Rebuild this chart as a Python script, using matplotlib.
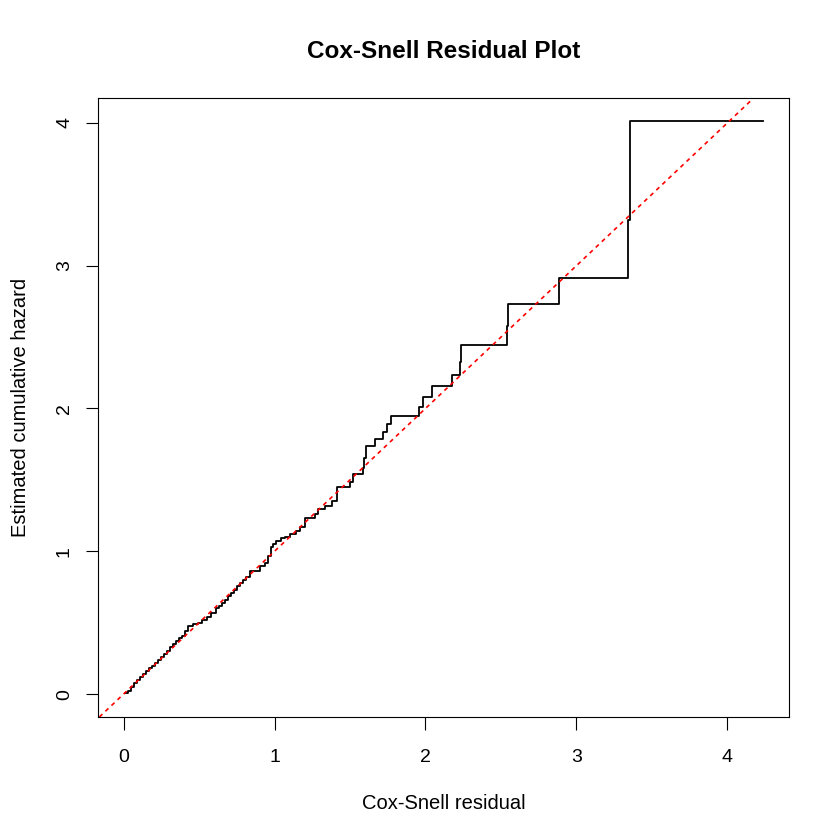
import matplotlib
matplotlib.use("Agg")
import matplotlib.pyplot as plt

plt.rcParams['font.family'] = ['Liberation Sans', 'DejaVu Sans']

# Cox-Snell residuals (event times) and Nelson-Aalen cumulative hazard
resid = [0.01, 0.03, 0.05, 0.07, 0.09, 0.11, 0.13, 0.15, 0.17, 0.19,
         0.21, 0.23, 0.25, 0.27, 0.29, 0.31, 0.33, 0.35, 0.37, 0.39,
         0.41, 0.43, 0.46, 0.49, 0.52, 0.55, 0.58, 0.61, 0.63, 0.65,
         0.67, 0.69, 0.71, 0.73, 0.75, 0.77, 0.79, 0.81, 0.84, 0.905,
         0.94, 0.96, 0.975, 0.99, 1.01, 1.04, 1.07, 1.10, 1.14, 1.17,
         1.20, 1.203, 1.269, 1.29, 1.335, 1.379, 1.417, 1.50, 1.522, 1.588,
         1.595, 1.603, 1.666, 1.72, 1.743, 1.771, 1.959, 1.981, 2.045, 2.174,
         2.227, 2.234, 2.538, 2.547, 2.882, 3.34, 3.353, 4.239]
cumhaz = [0.005, 0.025, 0.05, 0.075, 0.10, 0.12, 0.14, 0.16, 0.18, 0.20,
          0.22, 0.24, 0.26, 0.28, 0.30, 0.33, 0.35, 0.37, 0.39, 0.41,
          0.44, 0.478, 0.49, 0.50, 0.52, 0.54, 0.57, 0.60, 0.62, 0.64,
          0.66, 0.69, 0.71, 0.73, 0.76, 0.78, 0.80, 0.82, 0.865, 0.90,
          0.92, 0.97, 1.03, 1.05, 1.07, 1.09, 1.10, 1.12, 1.14, 1.17,
          1.19, 1.235, 1.259, 1.294, 1.317, 1.352, 1.45, 1.487, 1.538, 1.585,
          1.654, 1.736, 1.786, 1.834, 1.888, 1.946, 2.011, 2.079, 2.156, 2.233,
          2.326, 2.445, 2.576, 2.734, 2.914, 3.317, 4.014, 4.014]

xticks = [0, 1, 2, 3, 4]
yticks = [0, 1, 2, 3, 4]

fig = plt.figure(figsize=(8.4, 8.4), dpi=100)
ax = fig.add_axes([98 / 840, 123 / 840, 691 / 840, 619 / 840])

ax.plot(resid, cumhaz, drawstyle='steps-post', color='black', lw=1.3)
ax.axline((0, 0), slope=1, color='red', lw=1.2, linestyle=(0, (2.5, 2.5)))

# R style 4% padding
xr = max(resid) - 0
yr = max(cumhaz) - 0
ax.set_xlim(0 - 0.04 * xr, max(resid) + 0.04 * xr)
ax.set_ylim(0 - 0.04 * yr, max(cumhaz) + 0.04 * yr)

ax.set_xticks(xticks)
ax.set_yticks(yticks)
ax.set_xticklabels([str(t) for t in xticks])
ax.set_yticklabels([str(t) for t in yticks], rotation=90, va='center')
ax.tick_params(axis='both', direction='out', length=9, width=0.8, labelsize=14)
ax.tick_params(axis='x', pad=14)
ax.tick_params(axis='y', pad=9)
for s in ax.spines.values():
    s.set_linewidth(0.8)

ax.set_title('Cox-Snell Residual Plot', fontsize=17.5, fontweight='bold', pad=29)
ax.set_xlabel('Cox-Snell residual', fontsize=14.5, labelpad=20)
ax.set_ylabel('Estimated cumulative hazard', fontsize=14.5, labelpad=19)

fig.savefig('out.png', dpi=100)
